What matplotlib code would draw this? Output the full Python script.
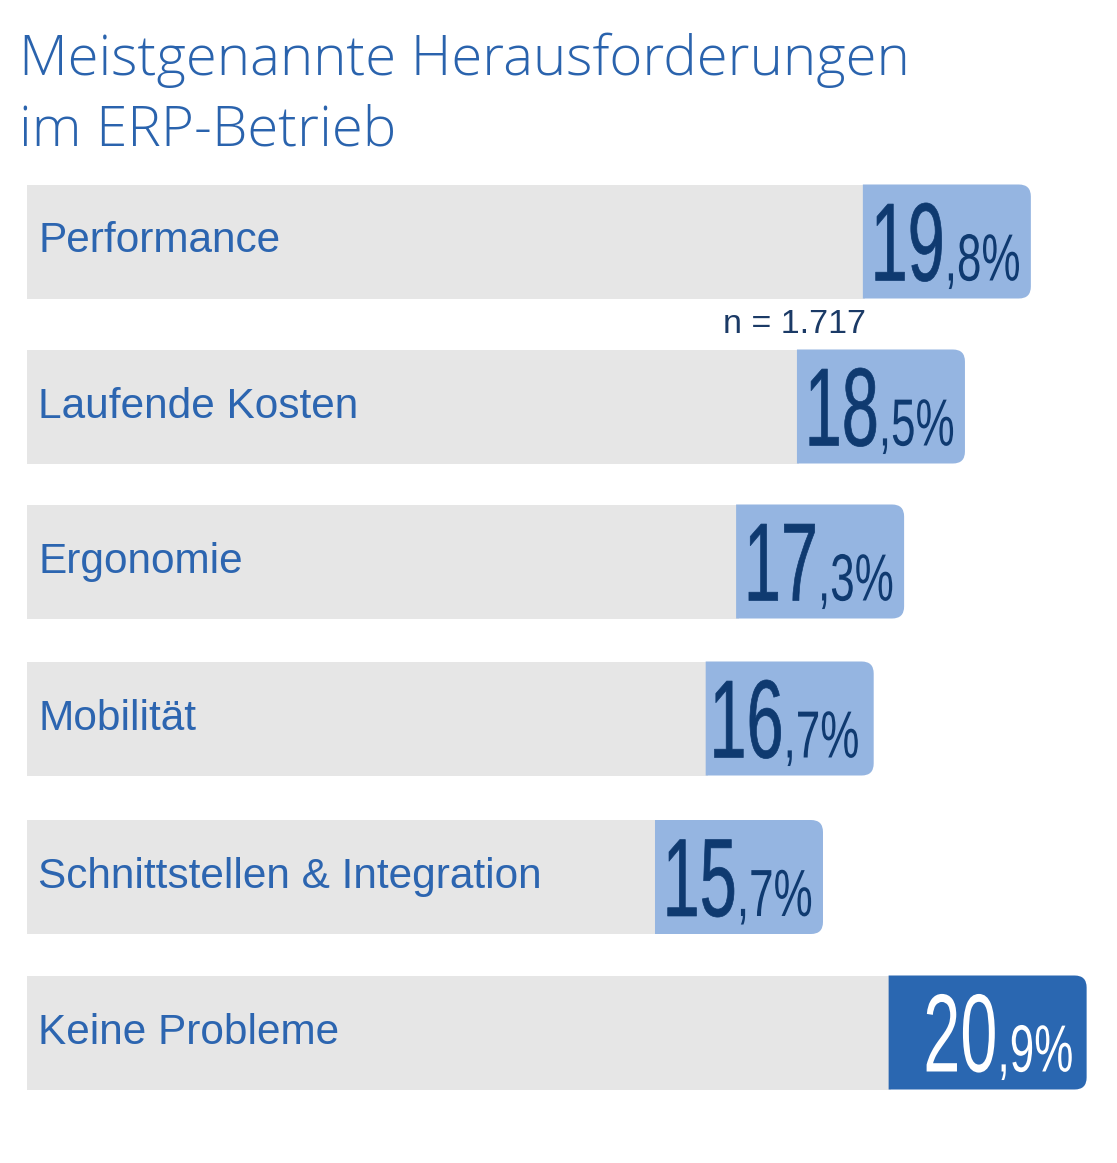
import matplotlib
matplotlib.use("Agg")
import matplotlib.pyplot as plt
from matplotlib.patches import PathPatch
from matplotlib.path import Path
from matplotlib.transforms import Affine2D
from matplotlib import patheffects

# ---------------- data ----------------
categories = ["Performance", "Laufende Kosten", "Ergonomie", "Mobilität",
              "Schnittstellen & Integration", "Keine Probleme"]
values = [19.8, 18.5, 17.3, 16.7, 15.7, 20.9]
highlight = [False, False, False, False, False, True]
title_lines = ["Meistgenannte Herausforderungen", "im ERP-Betrieb"]
note = "n = 1.717"

# ---------------- style / layout ----------------
W, H = 1117, 1163
PX = 50.7          # pixels per percentage point
X0 = 27            # pixel position of 0 %
centers = [241.5, 406.5, 561.5, 718.5, 877.0, 1032.5]
BAR_H = 114
BOX_W = [168, 168, 168, 168, 168, 198]
RADIUS = 12
RIGHT_PAD = [10, 10, 10, 14, 10, 13]

GRAY = "#e6e6e6"
LIGHT = "#95b5e1"
DARK = "#2a67b1"
NAVY = "#0f3a70"
BLUE_TXT = "#2c65b0"


class VStretch(patheffects.AbstractPathEffect):
    """Draw glyphs taller than their nominal size (condensed look); the text
    stays a real Text artist whose width equals its nominal width."""

    def __init__(self, sy, lw=0.0):
        super().__init__()
        self.sy = sy
        self.lw = lw

    def draw_path(self, renderer, gc, tpath, affine, rgbFace=None):
        tr = Affine2D().scale(1, self.sy) + affine
        if self.lw > 0:
            gc0 = renderer.new_gc()
            gc0.copy_properties(gc)
            gc0.set_linewidth(self.lw)
            gc0.set_foreground(rgbFace)
            gc0.set_joinstyle("round")
            renderer.draw_path(gc0, tpath, tr, rgbFace)
            gc0.restore()
        else:
            renderer.draw_path(gc, tpath, tr, rgbFace)


def right_rounded(x0, x1, ytop, ybot, rx, ry):
    verts = [(x0, ytop), (x1 - rx, ytop), (x1, ytop), (x1, ytop + ry),
             (x1, ybot - ry), (x1, ybot), (x1 - rx, ybot), (x0, ybot), (x0, ytop)]
    codes = [Path.MOVETO, Path.LINETO, Path.CURVE3, Path.CURVE3,
             Path.LINETO, Path.CURVE3, Path.CURVE3, Path.LINETO, Path.CLOSEPOLY]
    return Path(verts, codes)


fig = plt.figure(figsize=(W / 100, H / 100), dpi=100)
ax = fig.add_axes([0, 0, 1, 1])
ax.set_xlim(-X0 / PX, (W - X0) / PX)
ax.set_ylim(H, 0)
ax.axis("off")

SX_BIG = 0.60
SX_SMALL = 0.66
BIG_PT = 80
SMALL_PT = 48
big_texts, small_texts = [], []
for cat, v, hl, yc, bw in zip(categories, values, highlight, centers, BOX_W):
    bw_u = bw / PX
    left_box = v - bw_u
    top = yc - BAR_H / 2
    # gray bar
    ax.barh(yc, left_box + 0.05, left=0, height=BAR_H, color=GRAY, linewidth=0)
    col = DARK if hl else LIGHT
    # value box with rounded right corners
    ax.add_patch(PathPatch(right_rounded(left_box, v, top, top + BAR_H,
                                         RADIUS / PX, RADIUS),
                           facecolor=col, edgecolor="none"))
    # category label
    ax.text((38 - X0) / PX, yc + 11, cat, fontsize=30.5, family="Liberation Sans",
            color=BLUE_TXT, va="baseline", ha="left")
    # value
    s = f"{v:.1f}"
    ip, dp = s.split(".")
    tcol = "white" if hl else NAVY
    lw = 0.0 if hl else 0.5
    tb = ax.text(left_box, yc + 39, ip, fontsize=BIG_PT * SX_BIG,
                 family="Liberation Sans", color=tcol, va="baseline", ha="left",
                 path_effects=[VStretch(1 / SX_BIG, lw)])
    ts = ax.text(left_box, yc + 39, "," + dp + "%", fontsize=SMALL_PT * SX_SMALL,
                 family="Liberation Sans", color=tcol, va="baseline", ha="left",
                 path_effects=[VStretch(1 / SX_SMALL, 0.0)])
    big_texts.append(tb)
    small_texts.append(ts)

# note
ax.text((866 - X0) / PX, 333, note, fontsize=24.5, family="Liberation Sans",
        color="#1b3a66", ha="right", va="baseline")

# title
for i, line in enumerate(title_lines):
    ax.text((19 - X0) / PX, 75 + 71 * i, line, fontsize=40.6, family="Open Sans",
            fontweight="light", color="#2a63ad", ha="left", va="baseline")

# position value texts right-aligned within boxes
fig.canvas.draw()
r = fig.canvas.get_renderer()
inv = ax.transData.inverted()
for v, tb, ts, pad in zip(values, big_texts, small_texts, RIGHT_PAD):
    wb = tb.get_window_extent(r).width
    ws = ts.get_window_extent(r).width
    right = ax.transData.transform((v, 0))[0] - pad
    xs = right - ws
    xb = xs - wb
    tb.set_x(inv.transform((xb, 0))[0])
    ts.set_x(inv.transform((xs, 0))[0])

fig.savefig("out.png", dpi=100)
